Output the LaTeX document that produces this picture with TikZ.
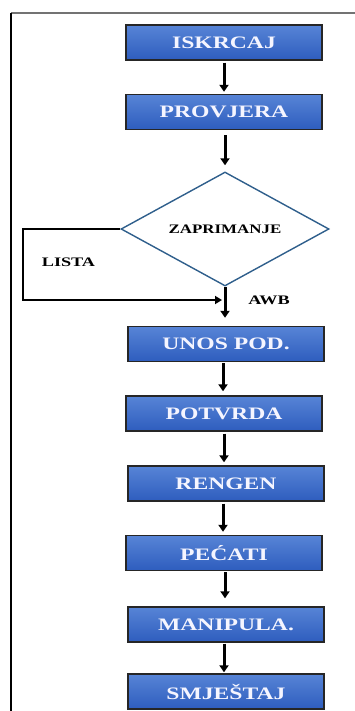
\documentclass[tikz,border=0pt]{standalone}
\usepackage{fontspec}
\setmainfont{Liberation Serif}
\usetikzlibrary{shapes.geometric,arrows.meta,calc}
\definecolor{boxtop}{HTML}{5784D6}
\definecolor{boxbot}{HTML}{2E5DBE}
\definecolor{diaedge}{HTML}{2F5F8C}
\newcommand\widetext[2]{\scalebox{#1}[1]{#2}}
\tikzset{
  stepbox/.style={rectangle, draw=black!85, line width=1.4pt, top color=boxtop, bottom color=boxbot,
    minimum width=196pt, minimum height=35pt, inner sep=0pt, text=white!96!blue,
    font=\bfseries\fontsize{17.5}{19}\selectfont},
  decision/.style={diamond, draw=diaedge, line width=1.4pt, fill=white, aspect=1.82,
    minimum width=208pt, minimum height=114pt, inner sep=0pt,
    font=\bfseries\fontsize{13}{14}\selectfont},
  arr/.style={line width=3pt, -{Triangle[width=9pt,length=7pt]}},
  loopline/.style={line width=2.4pt, -{Triangle[width=8pt,length=7pt]}},
  lab/.style={font=\bfseries\fontsize{13}{14}\selectfont}
}
\begin{document}
\begin{tikzpicture}[x=1pt,y=-1pt]
\useasboundingbox (0,0) rectangle (355,711);
% frame
\coordinate (f0) at (11,13);
\coordinate (f1) at (355,13);
\coordinate (f2) at (11,711);
\draw[line width=1.5pt, black!55] (f0) -- (f1);
\draw[line width=1.5pt, black] (f0) -- (f2);
% boxes
\node[stepbox] (b1) at (224,42.5) {\widetext{1.35}{ISKRCAJ}};
\node[stepbox] (b2) at (224,112) {\widetext{1.35}{PROVJERA}};
\node[decision] (d) at (225,229) {\widetext{1.3}{ZAPRIMANJE}};
\node[stepbox] (b3) at (226,344) {\widetext{1.35}{UNOS POD.}};
\node[stepbox] (b4) at (224,413.5) {\widetext{1.35}{POTVRDA}};
\node[stepbox] (b5) at (226,483.5) {\widetext{1.35}{RENGEN}};
\node[stepbox] (b6) at (224,553) {\widetext{1.35}{PEĆATI}};
\node[stepbox] (b7) at (226,624.5) {\widetext{1.35}{MANIPULA.}};
\node[stepbox] (b8) at (226,691.5) {\widetext{1.35}{SMJEŠTAJ}};
% labels
\node[lab] (lista) at (68.5,262) {\widetext{1.4}{LISTA}};
\node[lab] (awb) at (269,300) {\widetext{1.4}{AWB}};
% arrows
\draw[arr] ($(b1.south)+(0,2)$) -- ($(b2.north)+(0,-2)$);
\draw[arr] ($(b2.south)+(1,5)$) -- ($(d.north)+(0,-6)$);
\draw[arr] (d.south) -- ($(b3.north)+(-1,-8)$);
\draw[arr] ($(b3.south)+(-3,1)$) -- ($(b4.north)+(-1,-4)$);
\draw[arr] ($(b4.south)+(0,2)$) -- ($(b5.north)+(-2,-3)$);
\draw[arr] ($(b5.south)+(-3,2)$) -- ($(b6.north)+(-1,-3)$);
\draw[arr] ($(b6.south)+(1,1)$) -- ($(b7.north)+(-1,-8)$);
\draw[arr] ($(b7.south)+(-2,1)$) -- ($(b8.north)+(-2,-1)$);
% loop
\coordinate (lc) at (23,300);
\coordinate (j) at (222,300);
\draw[loopline] (d.west) -| (lc) -- (j);
\end{tikzpicture}
\end{document}
